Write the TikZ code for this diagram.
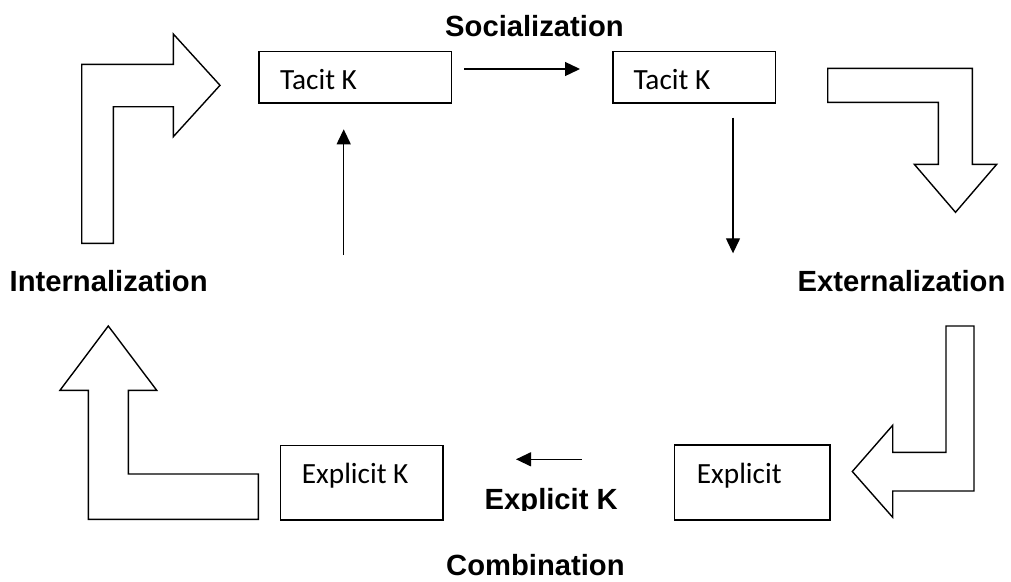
\documentclass[tikz,border=0pt]{standalone}
\usepackage{fontspec}
\setmainfont{Liberation Sans}
\newfontfamily\carl{Carlito}
\usetikzlibrary{arrows.meta}
\tikzset{
  blockarrow/.style={draw=black, line width=1.4pt, line join=miter, fill=white},
  kbox/.style={draw=black, line width=1.3pt, rectangle, inner sep=0pt, fill=white},
  ktext/.style={inner sep=0pt, anchor=base west, font=\carl\fontsize{29.3}{31}\selectfont},
  modelabel/.style={inner sep=0pt, anchor=base west, font=\bfseries\fontsize{29.2}{31}\selectfont},
  flow/.style={line width=1.3pt, -{Triangle[length=15pt,width=14pt]}}
}
\begin{document}
\begin{tikzpicture}[x=1pt,y=-1pt]
\useasboundingbox (0,0) rectangle (1011,581);
% block arrows
\draw[blockarrow] (81.7,243.3) -- (81.7,64.3) -- (173.3,64.3) -- (173.3,34) -- (220,85.3) -- (173.3,136.7) -- (173.3,106.7) -- (113.3,106.7) -- (113.3,243.3) -- cycle;
\draw[blockarrow] (827.7,68.3) -- (972.3,68.3) -- (972.3,164.3) -- (996.7,164.3) -- (955.5,212.3) -- (914.3,164.3) -- (938.3,164.3) -- (938.3,102.3) -- (827.7,102.3) -- cycle;
\draw[blockarrow] (946,326) -- (974,326) -- (974,491) -- (892.7,491) -- (892.7,517.3) -- (852.3,471.5) -- (892.7,425.3) -- (892.7,452.3) -- (946,452.3) -- cycle;
\draw[blockarrow] (108.3,326) -- (156.7,390.3) -- (128.3,390.3) -- (128.3,474) -- (258.3,474) -- (258.3,519.3) -- (88.3,519.3) -- (88.3,390.3) -- (60,390.3) -- cycle;
% boxes
\node[kbox, minimum width=192.7pt, minimum height=51.6pt, anchor=north west] (b1) at (258.3,50.7) {};
\node[ktext] (t1) at ([xshift=21.7pt,yshift=-38.5pt]b1.north west) {Tacit K};
\node[kbox, minimum width=162.7pt, minimum height=51.6pt, anchor=north west] (b2) at (612.3,50.7) {};
\node[ktext] (t2) at ([xshift=21pt,yshift=-38.5pt]b2.north west) {Tacit K};
\node[kbox, minimum width=162.3pt, minimum height=74.3pt, anchor=north west] (b3) at (280,445) {};
\node[ktext] (t3) at ([xshift=21.7pt,yshift=-38pt]b3.north west) {Explicit K};
\node[kbox, minimum width=155.3pt, minimum height=75pt, anchor=north west] (b4) at (674,444.3) {};
\node[ktext] (t4) at ([xshift=22.7pt,yshift=-38.7pt]b4.north west) {Explicit};
% labels
\node[modelabel] (soc) at (445,36.5) {Socialization};
\node[modelabel] (int) at (9.5,291.5) {Internalization};
\node[modelabel] (ext) at (797.5,291) {Externalization};
\node[modelabel] (com) at (446,575) {Combination};
\begin{scope}
\clip (480,480) rectangle (640,510.5);
\node[modelabel] (ek) at (484.5,509) {Explicit K};
\end{scope}
% connectors
\coordinate (a1s) at (464.3,69);
\coordinate (a1e) at (580,69);
\coordinate (a2s) at (733,117.7);
\coordinate (a2e) at (733,253.3);
\coordinate (a3s) at (581.7,459.3);
\coordinate (a3e) at (516,459.3);
\coordinate (a4s) at (343.7,255);
\coordinate (a4e) at (343.7,129.3);
\draw[flow] (a1s) -- (a1e);
\draw[flow] (a2s) -- (a2e);
\draw[flow] (a3s) -- (a3e);
\draw[flow] (a4s) -- (a4e);
\end{tikzpicture}
\end{document}
